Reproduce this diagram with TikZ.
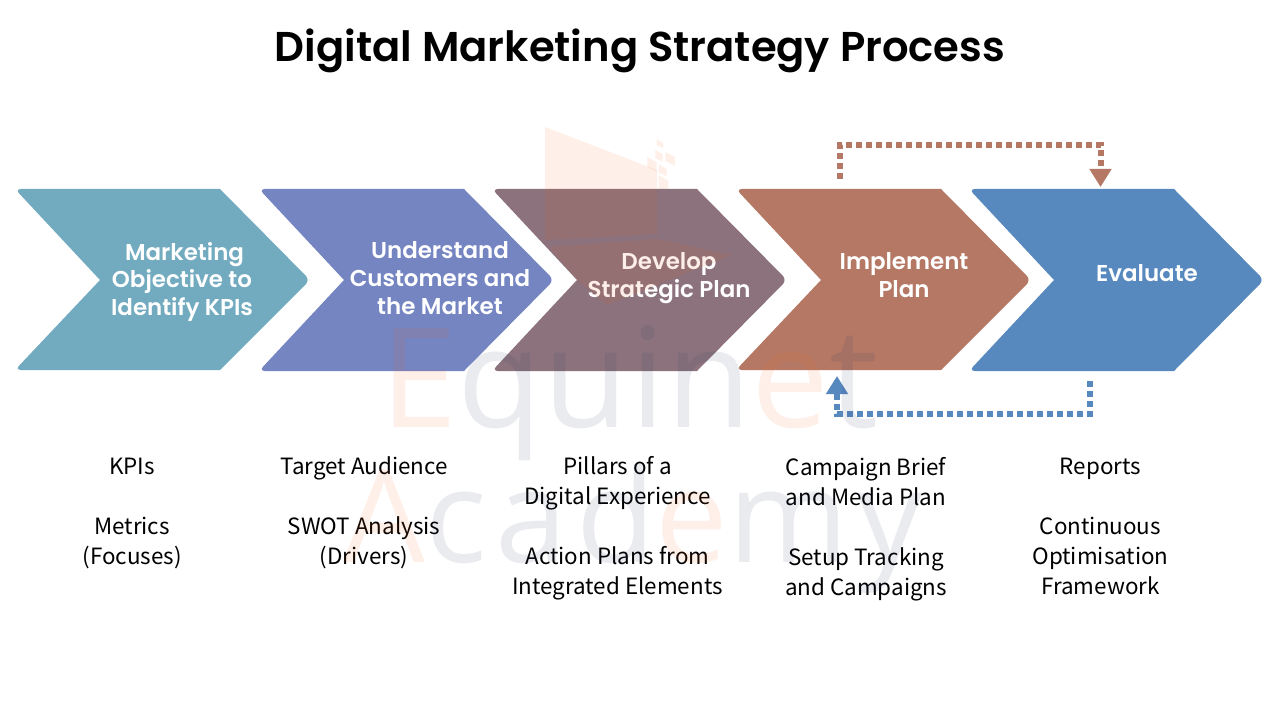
\documentclass[tikz,border=0pt]{standalone}
\usepackage{fontspec}
\usepackage{xcolor}
\usetikzlibrary{arrows.meta}
\setmainfont{Noto Sans CJK SC}
\newfontfamily\headfont{Poppins SemiBold}
\newfontfamily\markfont[LetterSpace=1]{Open Sans}
\newfontfamily\markwide[LetterSpace=7]{Open Sans}
\definecolor{chevTeal}{HTML}{72ABC0}
\definecolor{chevViolet}{HTML}{7585C2}
\definecolor{chevPlum}{HTML}{8B727D}
\definecolor{chevBrown}{HTML}{B57865}
\definecolor{chevBlue}{HTML}{5789BF}
\definecolor{markOrange}{HTML}{F26522}
\definecolor{markNavy}{HTML}{2B3A67}
\tikzset{
  chevlabel/.style={font=\headfont\fontsize{17.2}{20.8}\selectfont, text=white, align=center, inner sep=0pt},
  notes/.style={font=\fontsize{16.8}{22.5}\selectfont, align=center, anchor=north, inner sep=0pt},
  loopline/.style={line width=4.5pt, dash pattern=on 4.5pt off 3pt, -{Triangle[width=15.75pt,length=13.5pt]}},
  markword/.style={anchor=base west, inner sep=0pt, text opacity=0.1},
  markshape/.style={markOrange, opacity=0.1}
}
\begin{document}
\begin{tikzpicture}[x=0.75pt,y=-0.75pt]
\useasboundingbox (0,0) rectangle (1280,720);

\node[font=\headfont\fontsize{31.25}{36}\selectfont] (title) at (640,51) {Digital Marketing Strategy Process};

% chevrons
\fill[chevTeal] (100,189) [rounded corners=4.5pt] -- (15,189) [sharp corners] -- (100,280) [rounded corners=4.5pt] -- (15,370) [sharp corners] -- (220,370) [rounded corners=4.5pt] -- (310,280) [sharp corners] -- (220,189) -- cycle;
\fill[chevViolet] (344,189) [rounded corners=4.5pt] -- (259,189) [sharp corners] -- (344,280) [rounded corners=4.5pt] -- (259,371) [sharp corners] -- (464,371) [rounded corners=4.5pt] -- (554,280) [sharp corners] -- (464,189) -- cycle;
\fill[chevPlum] (577,189) [rounded corners=4.5pt] -- (492,189) [sharp corners] -- (577,280) [rounded corners=4.5pt] -- (492,371) [sharp corners] -- (697,371) [rounded corners=4.5pt] -- (787,280) [sharp corners] -- (697,189) -- cycle;
\fill[chevBrown] (821,189) [rounded corners=4.5pt] -- (736,189) [sharp corners] -- (821,280) [rounded corners=4.5pt] -- (736,370) [sharp corners] -- (941,370) [rounded corners=4.5pt] -- (1031,280) [sharp corners] -- (941,189) -- cycle;
\fill[chevBlue] (1054,189) [rounded corners=4.5pt] -- (969,189) [sharp corners] -- (1054,280) [rounded corners=4.5pt] -- (969,371) [sharp corners] -- (1174,371) [rounded corners=4.5pt] -- (1264,280) [sharp corners] -- (1174,189) -- cycle;

\node[chevlabel] (objective) at (182,282) {\hspace*{3.75pt}Marketing\\Objective to\\Identify KPIs};
\node[chevlabel] (customers) at (440,278) {Understand\\Customers and\\the Market};
\node[chevlabel] (develop) at (669,278) {Develop\\Strategic Plan};
\node[chevlabel] (implement) at (904,275) {Implement\\Plan};
\node[chevlabel] (evaluate) at (1147,273) {Evaluate};

% feedback loops
\coordinate (implTop) at (840,179);
\coordinate (evalTop) at (1100.5,187);
\coordinate (evalLow) at (1090,381);
\coordinate (implLow) at (837,376);
\draw[loopline, chevBrown] (implTop) -- ++(0,-34) -| (evalTop);
\draw[loopline, chevBlue] (evalLow) -- ++(0,33) -| (implLow);

\node[notes] (notesA) at (132,458) {KPIs\\[22.5pt]Metrics\\(Focuses)};
\node[notes] (notesB) at (364,456) {Target Audience\\[22.5pt]SWOT Analysis\\(Drivers)};
\node[notes] (notesC) at (617.5,456) {Pillars of a\\Digital Experience\\[22.5pt]Action Plans from\\Integrated Elements};
\node[notes] (notesD) at (866,457) {Campaign Brief\\and Media Plan\\[22.5pt]Setup Tracking\\and Campaigns};
\node[notes] (notesE) at (1100.5,458) {Reports\\[22.5pt]Continuous\\Optimisation\\Framework};

% watermark
\fill[markshape] (545,127) -- (657,170) -- (657,234) -- (545,240) -- cycle;
\fill[markshape] (549,247) -- (657,239) -- (732,255) -- (607,305) -- (577,280) -- cycle;
\fill[markshape] (656.7,139.3) -- (663.3,143.3) -- (663.3,148.3) -- (656.7,145) -- cycle;
\fill[markshape] (655.3,150) -- (662.7,154) -- (662.7,161.7) -- (655.3,158.3) -- cycle;
\fill[markshape] (665.3,151.7) -- (675,157.3) -- (675,166) -- (665.3,160.7) -- cycle;
\fill[markshape] (647.3,156.7) -- (656.7,162.3) -- (656.7,171.7) -- (647.3,166.7) -- cycle;
\fill[markshape] (658.7,164.3) -- (666.7,169) -- (666.7,176) -- (658.7,172.7) -- cycle;
\fill[markshape] (658.7,175) -- (668.3,180.7) -- (668.3,189) -- (658.7,189) -- cycle;
\node[markword, font=\markfont\fontsize{104}{104}\selectfont] (markA) at (380,427) {\textcolor{markOrange}{E}\textcolor{markNavy}{quin}\textcolor{markOrange}{e}\textcolor{markNavy}{t}};
\node[markword, font=\markwide\fontsize{97}{97}\selectfont] (markB) at (343,562) {\textcolor{markOrange}{A}\textcolor{markNavy}{cad}\textcolor{markOrange}{e}\textcolor{markNavy}{my}};

\end{tikzpicture}
\end{document}
